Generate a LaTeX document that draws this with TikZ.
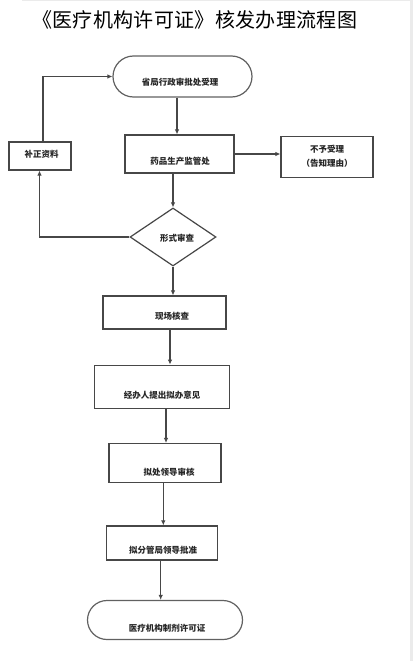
\documentclass[tikz,border=0pt]{standalone}
\usepackage{fontspec}
\newfontfamily\cjk{Noto Sans CJK SC}
\usetikzlibrary{arrows.meta,shapes.geometric,shapes.misc}
\newcommand\spreadtitle{\makebox[325pt][s]{《\hfill 医\hfill 疗\hfill 机\hfill 构\hfill 许\hfill 可\hfill 证\hfill 》\hfill 核\hfill 发\hfill 办\hfill 理\hfill 流\hfill 程\hfill 图}}
\begin{document}
\begin{tikzpicture}[x=1pt,y=-1pt,
  line width=1.2pt,
  boxstyle/.style={draw=black!72,rectangle,inner sep=0pt},
  termstyle/.style={draw=black!62,rounded rectangle,inner sep=0pt},
  decstyle/.style={draw=black!72,diamond,inner sep=0pt},
  lbl/.style={font=\cjk\bfseries\fontsize{8.5}{10}\selectfont,text=black!85,inner sep=0pt},
  conn/.style={draw=black!72,line width=1.1pt,-{Latex[length=5pt,width=4.5pt]}}]
\useasboundingbox (0,0) rectangle (413,661);
\fill[white] (0,0) rectangle (413,661);
\fill[black!8] (409.5,0) rectangle (413,661);
\fill[black!8] (22,0) rectangle (413,1.5);
\node[font=\cjk\fontsize{20}{24}\selectfont,inner sep=0pt] (title) at (194.5,20) {\spreadtitle};
% shapes
\node[termstyle,minimum width=139,minimum height=41] (start) at (182.5,76.5) {};
\node[boxstyle,minimum width=62,minimum height=28] (fix) at (40,156) {};
\node[boxstyle,minimum width=109,minimum height=38] (yp) at (179.5,154) {};
\node[boxstyle,minimum width=92,minimum height=41] (rej) at (327,157) {};
\node[decstyle,minimum width=86,minimum height=58] (form) at (173,237) {};
\node[boxstyle,minimum width=123,minimum height=33] (site) at (164.5,312.5) {};
\node[boxstyle,minimum width=135,minimum height=43] (jb) at (161.7,386.7) {};
\node[boxstyle,minimum width=112,minimum height=39] (cl) at (165,463) {};
\node[boxstyle,minimum width=111,minimum height=34] (fg) at (162,543) {};
\node[termstyle,minimum width=155,minimum height=39] (end) at (165,620) {};
% labels
\node[lbl] (tstart) at (180,82) {省局行政审批处受理};
\node[lbl] (tfix) at (41.5,154) {补正资料};
\node[lbl] (typ) at (180,161) {药品生产监管处};
\node[lbl,align=center] (trej) at (327,156) {不予受理\\[4pt]（告知理由）};
\node[lbl] (tform) at (177,238) {形式审查};
\node[lbl] (tsite) at (172,316.7) {现场核查};
\node[lbl] (tjb) at (162,395) {经办人提出拟办意见};
\node[lbl] (tcl) at (169,472.7) {拟处领导审核};
\node[lbl] (tfg) at (163,550.7) {拟分管局领导批准};
\node[lbl] (tend) at (167,628) {医疗机构制剂许可证};
% connectors
\draw[conn] (start.south -| 177,0) -- (yp.north -| 177,0);
\draw[conn] (yp.east) -- (rej.west |- yp.east);
\draw[conn] (yp.south -| 173,0) -- (form.north);
\draw[conn] (form.west) -| (fix.south -| 39.5,0);
\draw[conn] (fix.north -| 43,0) |- (start.west);
\draw[conn] (form.south) -- (site.north -| 173,0);
\draw[conn] (site.south -| 170,0) -- (jb.north -| 170,0);
\draw[conn] (jb.south -| 166,0) -- (cl.north -| 166,0);
\draw[conn] (cl.south -| 163.3,0) -- (fg.north -| 163.3,0);
\draw[conn] (fg.south -| 160.7,0) -- (end.north -| 160.7,0);
\end{tikzpicture}
\end{document}
